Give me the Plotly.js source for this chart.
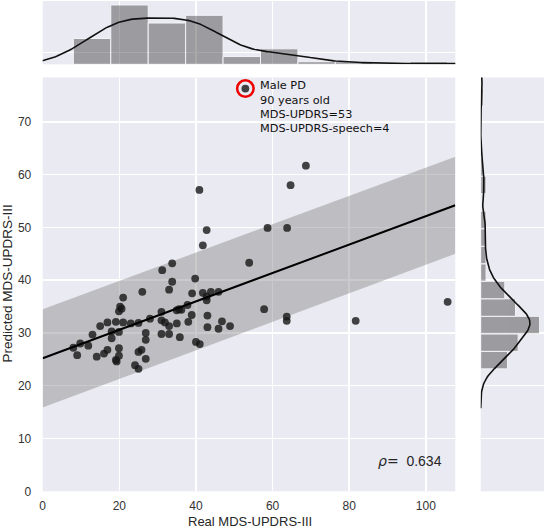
<!DOCTYPE html>
<html>
<head>
<meta charset="utf-8">
<script src="https://cdn.plot.ly/plotly-3.0.1.min.js"></script>
<style>
html,body{margin:0;padding:0;background:#fff;}
#chart{width:544px;height:528px;}
</style>
</head>
<body>
<div id="chart"></div>
<script>
// ---- data ----
const realMDS = [
  8.0, 9.0, 9.8, 11.9, 13.0, 14.1, 15.0, 16.0, 16.9, 16.9,
  18.0, 18.0, 19.1, 19.1, 19.3, 19.9, 19.9, 19.9, 19.9, 20.2, 20.6, 21.0, 21.0, 23.0,
  24.1, 25.0, 25.0, 25.0, 25.8, 26.0, 26.9, 26.9, 26.9,
  28.0, 31.0, 31.0, 31.0, 31.2, 31.9, 33.0, 33.0, 33.0, 33.8, 33.8, 35.0, 35.0, 35.6, 35.8, 36.2,
  37.8, 38.0, 38.9, 39.0, 39.8, 40.0, 40.9, 41.0, 41.8, 41.8, 42.8, 42.8, 42.8, 43.0, 43.0, 43.9, 45.9, 45.9, 46.8,
  48.9, 52.9, 53.9,
  57.8, 58.7, 63.7, 63.7, 63.8, 64.7,
  68.7, 81.7, 105.7
];
const predMDS = [
  27.2, 25.8, 28.0, 27.6, 29.7, 25.5, 31.3, 26.1, 26.8, 32.0,
  30.3, 29.0, 32.1, 24.9, 24.6, 27.1, 25.7, 30.2, 34.1, 35.0, 34.6, 36.7, 32.0, 31.8,
  23.9, 23.2, 31.9, 26.4, 26.8, 37.8, 30.0, 28.7, 25.1,
  32.7, 34.0, 29.8, 32.4, 41.9, 32.0, 29.8, 31.3, 38.2, 43.2, 39.7, 31.8, 34.3, 34.5, 29.2, 34.4,
  35.3, 32.1, 33.4, 37.5, 40.3, 28.3, 57.1, 27.9, 37.6, 46.6, 49.5, 36.9, 36.2, 33.3, 31.1, 37.8, 37.8, 30.8, 32.2,
  31.3, 76.3, 43.3,
  34.5, 49.9, 33.1, 32.3, 49.9, 58.0,
  61.7, 32.3, 35.9
];
// highlighted subject
const highlightReal = [52.9];
const highlightPred = [76.3];
const highlightLines = ["Male PD", "90 years old", "MDS-UPDRS=53", "MDS-UPDRS-speech=4"];
// fitted line and band
const fitX = [0, 107.7];
const fitY = [25.2, 54.2];
const bandUpper = [34.5, 63.4];
const bandLower = [15.9, 45.0];
const rhoText = "0.634";
// axis ticks
const xTicks = [0, 20, 40, 60, 80, 100];
const yTicks = [0, 10, 20, 30, 40, 50, 60, 70];
const xBinsCount = 10;
const yBinsCount = 16;

// ---- helpers ----
function histogram(data, nb) {
  const mn = Math.min(...data), mx = Math.max(...data);
  const w = (mx - mn) / nb;
  const counts = new Array(nb).fill(0);
  data.forEach(v => {
    let i = Math.floor((v - mn) / w);
    if (i >= nb) i = nb - 1;
    counts[i]++;
  });
  const centers = counts.map((c, i) => mn + w * (i + 0.5));
  const dens = counts.map(c => c / (data.length * w));
  return {centers, dens, w};
}
function percentile(sorted, p) {
  const idx = (sorted.length - 1) * p;
  const lo = Math.floor(idx), hi = Math.ceil(idx);
  return sorted[lo] + (sorted[hi] - sorted[lo]) * (idx - lo);
}
function kde(data, n) {
  const N = data.length;
  const mean = data.reduce((a, b) => a + b, 0) / N;
  const sd = Math.sqrt(data.reduce((a, b) => a + (b - mean) * (b - mean), 0) / (N - 1));
  const s = data.slice().sort((a, b) => a - b);
  const iqr = (percentile(s, 0.75) - percentile(s, 0.25)) / 1.349;
  const A = Math.min(sd, iqr);
  const bw = 1.059 * A * Math.pow(N, -0.2);
  const lo = s[0] - 3 * bw, hi = s[N - 1] + 3 * bw;
  const gx = [], gy = [];
  for (let i = 0; i < n; i++) {
    const x = lo + (hi - lo) * i / (n - 1);
    let d = 0;
    for (let j = 0; j < N; j++) {
      const z = (x - data[j]) / bw;
      d += Math.exp(-0.5 * z * z);
    }
    gx.push(x);
    gy.push(d / (N * bw * Math.sqrt(2 * Math.PI)));
  }
  return {gx, gy};
}

const hx = histogram(realMDS, xBinsCount);
const hy = histogram(predMDS, yBinsCount);
const kx = kde(realMDS, 300);
const ky = kde(predMDS, 300);
const topMax = Math.max(...hx.dens, ...kx.gy) * 1.067;
const rightMax = Math.max(...hy.dens, ...ky.gy) * 1.075;

const W = 544, H = 528;
const px = v => v / W;
const py = v => 1 - v / H;

const gridCol = '#ffffff';
const tickFont = {family: 'Liberation Sans, Arial, sans-serif', size: 12, color: '#333333'};

const traces = [
  { // band
    x: fitX.concat(fitX.slice().reverse()),
    y: bandLower.concat(bandUpper.slice().reverse()),
    type: 'scatter', mode: 'lines', fill: 'toself',
    fillcolor: 'rgba(128,128,128,0.42)', line: {width: 0, color: 'rgba(0,0,0,0)'},
    xaxis: 'x', yaxis: 'y', hoverinfo: 'skip'
  },
  { // points
    x: realMDS, y: predMDS, type: 'scatter', mode: 'markers',
    marker: {size: 7.8, color: 'rgba(22,22,22,0.8)', line: {width: 0}},
    xaxis: 'x', yaxis: 'y'
  },
  { // fit line
    x: fitX, y: fitY, type: 'scatter', mode: 'lines',
    line: {color: '#000000', width: 2}, xaxis: 'x', yaxis: 'y'
  },
  { // highlight ring
    x: highlightReal, y: highlightPred, type: 'scatter', mode: 'markers',
    marker: {symbol: 'circle-open', size: 16.5, color: '#ee0000', line: {width: 2.5, color: '#ee0000'}},
    xaxis: 'x', yaxis: 'y', cliponaxis: false
  },
  { // top hist
    x: hx.centers, y: hx.dens, width: hx.w, type: 'bar',
    marker: {color: '#262626', line: {color: '#ffffff', width: 1}},
    opacity: 0.4, xaxis: 'x2', yaxis: 'y2'
  },
  { // top kde
    x: kx.gx, y: kx.gy, type: 'scatter', mode: 'lines',
    line: {color: '#111111', width: 1.6}, xaxis: 'x2', yaxis: 'y2'
  },
  { // right hist
    y: hy.centers, x: hy.dens, width: hy.w, type: 'bar', orientation: 'h',
    marker: {color: '#262626', line: {color: '#ffffff', width: 1}},
    opacity: 0.4, xaxis: 'x3', yaxis: 'y3'
  },
  { // right kde
    x: ky.gy, y: ky.gx, type: 'scatter', mode: 'lines',
    line: {color: '#111111', width: 1.6}, xaxis: 'x3', yaxis: 'y3'
  }
];

const mainXDom = [px(42.7), px(455.3)];
const mainYDom = [py(491.3), py(77.5)];

const annotations = [];
const lineY = [85.9, 100.0, 114.1, 128.2];
highlightLines.forEach((t, i) => {
  annotations.push({
    text: t, xref: 'paper', yref: 'paper', x: px(257.5), y: py(lineY[i]),
    xanchor: 'left', yanchor: 'middle', showarrow: false,
    font: {family: 'DejaVu Sans, sans-serif', size: 11.3, color: '#111111'}
  });
});
annotations.push({
  text: '<span style="font-family:DejaVu Sans"><i>ρ</i>=</span>\u00A0\u00A0' + rhoText,
  xref: 'paper', yref: 'paper', x: px(443.5), y: py(461),
  xanchor: 'right', yanchor: 'middle', showarrow: false,
  font: {family: 'Liberation Sans, Arial, sans-serif', size: 14, color: '#262626'}
});
annotations.push({
  text: 'Real MDS-UPDRS-III', xref: 'paper', yref: 'paper',
  x: px(250), y: py(521.3), xanchor: 'center', yanchor: 'middle', showarrow: false,
  font: {family: 'Liberation Sans, Arial, sans-serif', size: 13, color: '#262626'}
});
annotations.push({
  text: 'Predicted MDS-UPDRS-III', xref: 'paper', yref: 'paper', textangle: -90,
  x: px(6.5), y: py(284), xanchor: 'center', yanchor: 'middle', showarrow: false,
  font: {family: 'Liberation Sans, Arial, sans-serif', size: 13.5, color: '#262626'}
});

const layout = {
  width: W, height: H,
  margin: {l: 0, r: 0, t: 0, b: 0, pad: 0},
  paper_bgcolor: '#ffffff', plot_bgcolor: '#EAEAF2',
  showlegend: false, bargap: 0,
  xaxis: {
    domain: mainXDom, range: [0, 107.7], anchor: 'y',
    tickvals: xTicks, ticktext: xTicks.map(String),
    showgrid: true, gridcolor: gridCol, gridwidth: 1.5, zeroline: false, showline: false,
    ticks: 'outside', ticklen: 3, tickcolor: 'rgba(0,0,0,0)', tickfont: tickFont
  },
  yaxis: {
    domain: mainYDom, range: [0, 78.4], anchor: 'x',
    tickvals: yTicks, ticktext: yTicks.map(String),
    showgrid: true, gridcolor: gridCol, gridwidth: 1.5, zeroline: false, showline: false,
    ticks: 'outside', ticklen: 8, tickcolor: 'rgba(0,0,0,0)', tickfont: tickFont
  },
  xaxis2: {
    domain: mainXDom, matches: 'x', anchor: 'y2', tickvals: xTicks,
    showticklabels: false, showgrid: true, gridcolor: gridCol, gridwidth: 1.5, zeroline: false, ticks: ''
  },
  yaxis2: {
    domain: [py(64.3), py(1)], range: [0, topMax], anchor: 'x2',
    tickvals: [topMax * 0.183], showticklabels: false, showgrid: true, gridcolor: gridCol, gridwidth: 1.5,
    zeroline: false, ticks: ''
  },
  xaxis3: {
    domain: [px(480.7), 1], range: [0, rightMax], anchor: 'y3',
    showticklabels: false, showgrid: false, zeroline: false, ticks: ''
  },
  yaxis3: {
    domain: mainYDom, matches: 'y', anchor: 'x3', tickvals: yTicks,
    showticklabels: false, showgrid: true, gridcolor: gridCol, gridwidth: 1.5, zeroline: false, ticks: ''
  },
  annotations: annotations
};

Plotly.newPlot('chart', traces, layout, {staticPlot: true, displayModeBar: false});
</script>
</body>
</html>
